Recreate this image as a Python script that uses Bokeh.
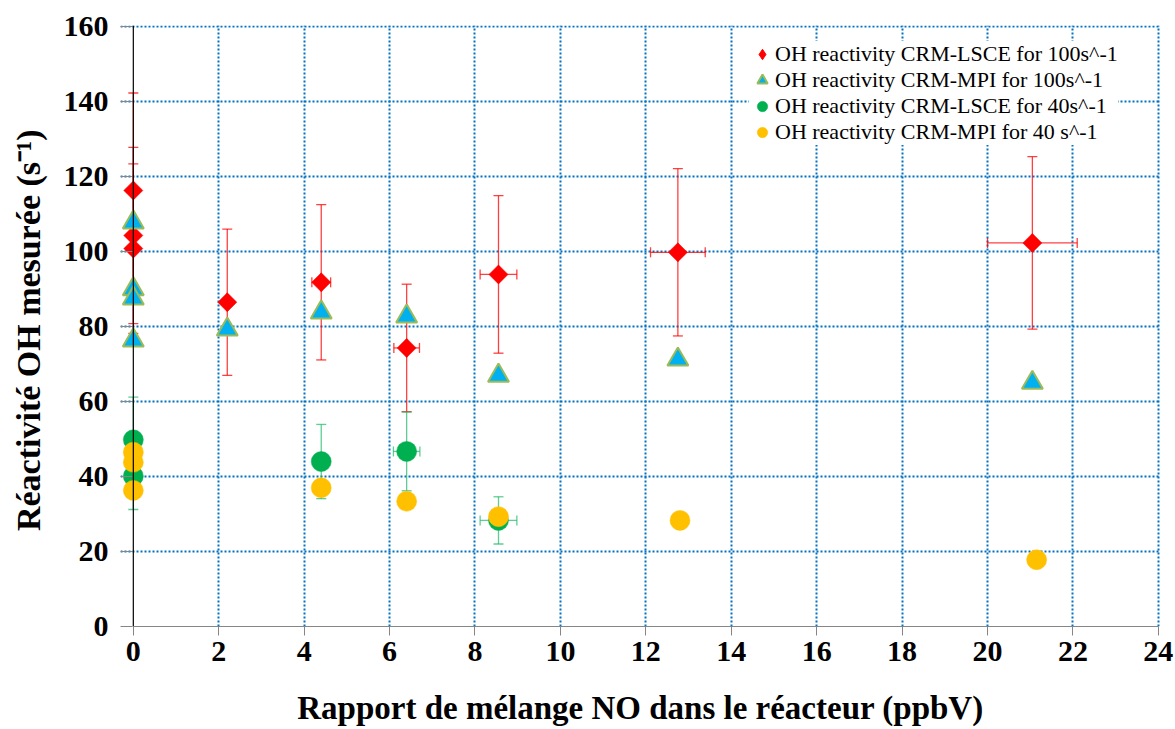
import numpy as np
from bokeh.plotting import figure
from bokeh.models import (ColumnDataSource, Whisker, TeeHead, Range1d, FixedTicker,
                          Legend, LegendItem, Span)
from bokeh.embed import file_html
from bokeh.resources import INLINE

# ---------------- data ----------------
lsce100_x = [0, 0, 0, 2.2, 4.4, 6.4, 8.55, 12.75, 21.05]
lsce100_y = [116.3, 104.3, 100.8, 86.5, 91.8, 74.3, 93.9, 99.8, 102.3]
lsce100_yerr = [26.0, 23.5, 22.6, 19.5, 20.7, 17.0, 21.0, 22.3, 23.0]
lsce100_xerr = [0, 0, 0, 0, 0.22, 0.30, 0.43, 0.64, 1.05]

mpi100_x = [0, 0, 0, 0, 2.2, 4.4, 6.4, 8.55, 12.75, 21.05]
mpi100_y = [107.8, 90.0, 87.5, 76.3, 79.2, 83.8, 82.7, 66.9, 71.2, 65.0]

lsce40_x = [0, 0, 4.4, 6.4, 8.55]
lsce40_y = [49.8, 40.1, 44.0, 46.7, 28.3]
lsce40_yerr = [11.4, 8.9, 9.9, 10.5, 6.3]
lsce40_xerr = [0, 0, 0, 0.31, 0.43]

mpi40_x = [0, 0, 0, 4.4, 6.4, 8.55, 12.8, 21.15]
mpi40_y = [46.5, 43.8, 36.3, 37.0, 33.4, 29.3, 28.3, 17.8]

labels = ["OH reactivity CRM-LSCE for 100s^-1",
          "OH reactivity CRM-MPI for 100s^-1",
          "OH reactivity CRM-LSCE for 40s^-1",
          "OH reactivity CRM-MPI for 40 s^-1"]

x_ticks = list(range(0, 25, 2))
y_ticks = list(range(0, 161, 20))
x_label = "Rapport de mélange NO dans le réacteur (ppbV)"
y_label = "Réactivité OH mesurée  (s⁻¹)"

# ---------------- styles ----------------
RED = "#FF0000"
BLUE = "#00B0F0"
OLIVE = "#9BBB59"
GREEN = "#00B050"
YELLOW = "#FFC000"
GRID = "#0070C0"
FONT = "Liberation Serif"

p = figure(width=1175, height=729, output_backend="svg", toolbar_location=None,
           x_range=Range1d(-0.3, 24.05), y_range=Range1d(0, 160.3),
           min_border_left=120, min_border_right=15, min_border_top=25,
           min_border_bottom=103)
p.outline_line_color = None
p.background_fill_color = "white"
p.border_fill_color = "white"

# grid
p.xgrid.ticker = FixedTicker(ticks=[t for t in x_ticks if t > 0])
p.ygrid.ticker = FixedTicker(ticks=[t for t in y_ticks if t > 0])
for g in (p.xgrid, p.ygrid):
    g.grid_line_color = GRID
    g.grid_line_width = 2
    g.grid_line_dash = "2 2"
p.xgrid.bounds = (0, 160)
p.ygrid.bounds = (0, 24)

# axes
p.xaxis.ticker = FixedTicker(ticks=x_ticks)
p.yaxis.ticker = FixedTicker(ticks=y_ticks)
p.xaxis.bounds = (0, 24)
p.xaxis.axis_line_color = "#868686"
p.yaxis.axis_line_color = None
for ax in (p.xaxis, p.yaxis):
    ax.major_tick_line_color = "#868686"
    ax.minor_tick_line_color = None
    ax.major_label_text_font = FONT
    ax.major_label_text_font_style = "bold"
    ax.major_label_text_font_size = "30px"
    ax.major_label_text_color = "black"
    ax.axis_label_text_font = FONT
    ax.axis_label_text_font_style = "bold"
    ax.axis_label_text_color = "black"
p.xaxis.major_tick_out = 9
p.xaxis.major_tick_in = 0
p.yaxis.major_tick_out = 0
p.yaxis.major_tick_in = 12
p.xaxis.major_label_standoff = 6
p.yaxis.major_label_standoff = 12
p.xaxis.axis_label = x_label
p.yaxis.axis_label = y_label
p.xaxis.axis_label_text_font_size = "33px"
p.yaxis.axis_label_text_font_size = "34px"
p.xaxis.axis_label_standoff = 26
p.yaxis.axis_label_standoff = 14

# vertical axis line at x = 0
p.add_layout(Span(location=0, dimension="height", line_color="black", line_width=1.2))


def add_errors(xs, ys, yerr, xerr, color, alpha):
    xs = np.array(xs, float); ys = np.array(ys, float)
    ye = np.array(yerr, float); xe = np.array(xerr, float)
    sv = ColumnDataSource(dict(x=xs, lo=ys - ye, hi=ys + ye))
    p.add_layout(Whisker(source=sv, base="x", lower="lo", upper="hi", dimension="height",
                         line_color=color, line_alpha=alpha, line_width=1.3,
                         lower_head=TeeHead(size=10, line_color=color, line_alpha=alpha, line_width=1.3),
                         upper_head=TeeHead(size=10, line_color=color, line_alpha=alpha, line_width=1.3)))
    m = xe > 0
    sh = ColumnDataSource(dict(y=ys[m], lo=xs[m] - xe[m], hi=xs[m] + xe[m]))
    p.add_layout(Whisker(source=sh, base="y", lower="lo", upper="hi", dimension="width",
                         line_color=color, line_alpha=alpha, line_width=1.3,
                         lower_head=TeeHead(size=10, line_color=color, line_alpha=alpha, line_width=1.3),
                         upper_head=TeeHead(size=10, line_color=color, line_alpha=alpha, line_width=1.3)))


add_errors(lsce100_x, lsce100_y, lsce100_yerr, lsce100_xerr, RED, 0.75)
add_errors(lsce40_x, lsce40_y, lsce40_yerr, lsce40_xerr, "#1DB866", 0.7)

# diamond glyph (used for the legend swatch), fully covered by the rotated squares
r1_leg = p.scatter(lsce100_x, lsce100_y, marker="diamond", size=18,
                   fill_color=RED, line_color=RED, line_width=1)
r1 = p.scatter(lsce100_x, lsce100_y, marker="square", angle=np.pi / 4, size=13.5,
               fill_color=RED, line_color=RED, line_width=0.5)
r2 = p.scatter(mpi100_x, mpi100_y, marker="triangle", size=21,
               fill_color=BLUE, line_color=OLIVE, line_width=2)
r3 = p.scatter(lsce40_x, lsce40_y, marker="circle", size=20,
               fill_color=GREEN, line_color=GREEN, line_width=0.5)
r4 = p.scatter(mpi40_x, mpi40_y, marker="circle", size=20,
               fill_color=YELLOW, line_color=YELLOW, line_width=0.5)

legend = Legend(items=[LegendItem(label=labels[0], renderers=[r1_leg]),
                       LegendItem(label=labels[1], renderers=[r2]),
                       LegendItem(label=labels[2], renderers=[r3]),
                       LegendItem(label=labels[3], renderers=[r4])],
                location=(629, 481))
legend.label_text_font = FONT
legend.label_text_font_size = "22px"
legend.label_text_color = "black"
legend.glyph_width = 26
legend.glyph_height = 26
legend.label_height = 26
legend.spacing = 0
legend.padding = 8
legend.label_standoff = 0
legend.border_line_color = None
legend.background_fill_color = "white"
legend.background_fill_alpha = 1.0
p.add_layout(legend)

open("out.html", "w").write(file_html(p, INLINE))
